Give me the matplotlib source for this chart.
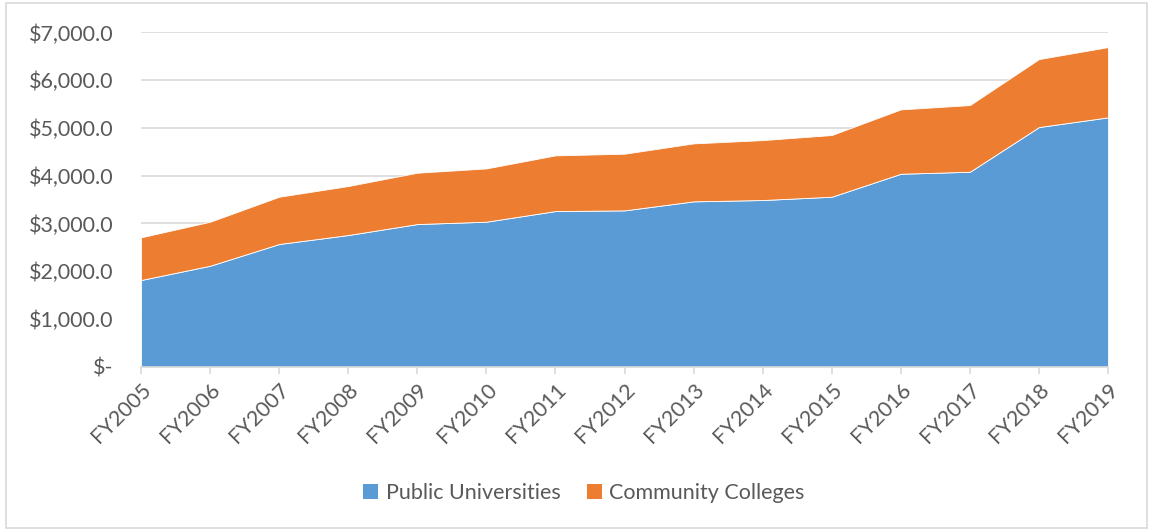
import matplotlib
matplotlib.use("Agg")
import matplotlib.pyplot as plt
from matplotlib.patches import Patch, Rectangle

years = ["FY2005", "FY2006", "FY2007", "FY2008", "FY2009", "FY2010", "FY2011", "FY2012",
         "FY2013", "FY2014", "FY2015", "FY2016", "FY2017", "FY2018", "FY2019"]
public_universities = [1815, 2114, 2569, 2757, 2987, 3036, 3259, 3273, 3462, 3490, 3559, 4040, 4082, 5018, 5221]
community_colleges = [894, 921, 990, 1026, 1075, 1116, 1166, 1187, 1214, 1255, 1292, 1348, 1396, 1423, 1471]
y_ticks = [0, 1000, 2000, 3000, 4000, 5000, 6000, 7000]
y_labels = ["$-", "$1,000.0", "$2,000.0", "$3,000.0", "$4,000.0", "$5,000.0", "$6,000.0", "$7,000.0"]

blue = "#5B9BD5"
orange = "#ED7D31"
txt = "#595959"
grid = "#D9D9D9"

plt.rcParams['font.family'] = ['Lato', 'DejaVu Sans']

fig = plt.figure(figsize=(11.53, 5.31), dpi=100)
fig.patches.append(Rectangle((0.005, 0.006), 0.99, 0.988, transform=fig.transFigure,
                             fill=False, edgecolor="#D9D9D9", linewidth=1.2))
ax = fig.add_axes([0.1223, 0.3094, 0.961 - 0.1223, 0.939 - 0.3094])

x = list(range(len(years)))
ax.stackplot(x, public_universities, community_colleges, colors=[blue, orange],
             labels=["Public Universities", "Community Colleges"],
             edgecolor="white", linewidth=0.6, zorder=2)

ax.set_xlim(0, len(years) - 1)
ax.set_ylim(0, 7000)
ax.set_yticks(y_ticks)
ax.set_yticklabels(y_labels)
ax.set_xticks(x)
ax.set_xticklabels(years, rotation=45, ha="right", va="top", rotation_mode="anchor")

ax.yaxis.grid(True, color=grid, linewidth=1.2, zorder=0)
ax.set_axisbelow(True)
for s in ["top", "right", "left"]:
    ax.spines[s].set_visible(False)
ax.spines["bottom"].set_color(grid)
ax.spines["bottom"].set_linewidth(1.2)
ax.spines["bottom"].set_zorder(3)
ax.tick_params(axis="y", length=0, pad=20, labelsize=15.5, labelcolor=txt)
ax.tick_params(axis="x", length=5, width=1.2, color=grid, pad=4, labelsize=15.5, labelcolor=txt)

handles = [Patch(facecolor=blue, edgecolor="none"), Patch(facecolor=orange, edgecolor="none")]
fig.legend(handles, ["Public Universities", "Community Colleges"], loc="center",
           bbox_to_anchor=(0.5065, 0.0716), ncol=2, frameon=False, fontsize=15.5,
           labelcolor=txt, handlelength=0.7, handleheight=0.7, handletextpad=0.35,
           columnspacing=1.2)

fig.savefig("out.png", dpi=100)
